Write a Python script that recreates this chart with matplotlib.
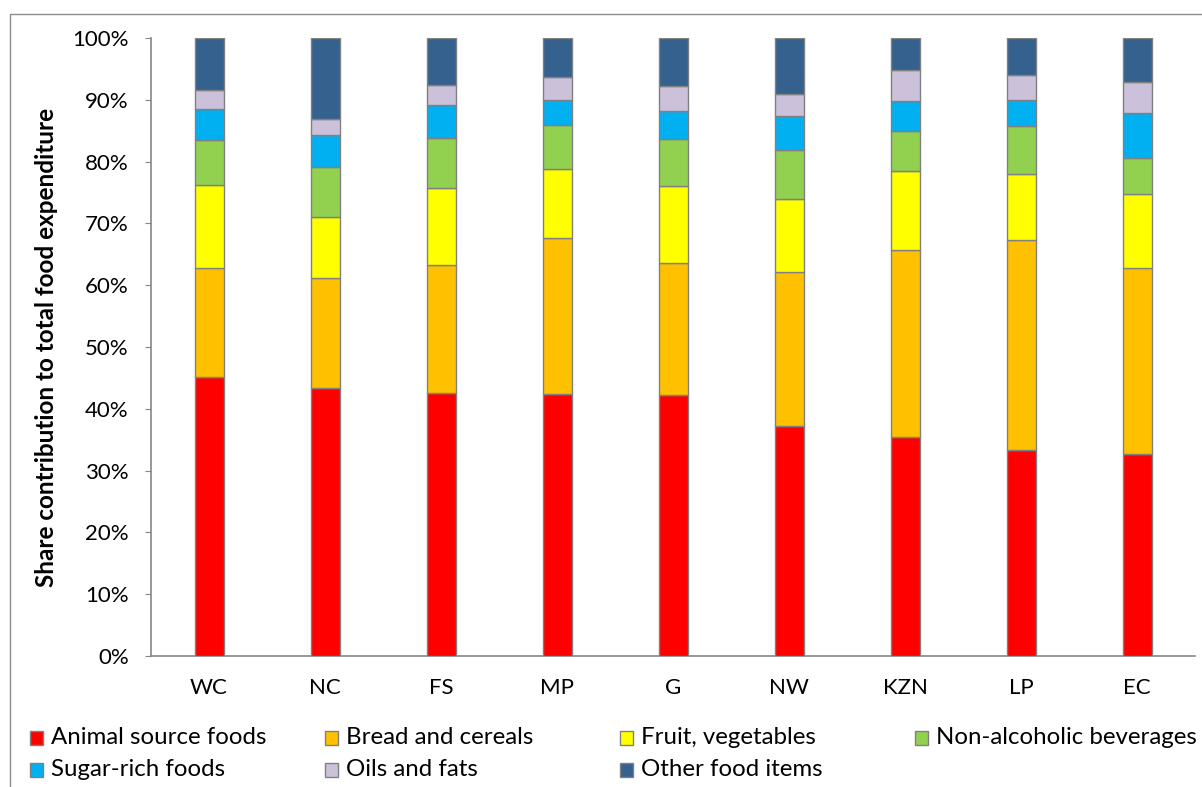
import matplotlib
matplotlib.use("Agg")
import matplotlib.pyplot as plt
import matplotlib.patches as patches
import numpy as np

plt.rcParams['font.family'] = ['Lato', 'DejaVu Sans']

# Provincias e participacao (%) de cada grupo de alimentos na despesa alimentar
provincias = ["WC", "NC", "FS", "MP", "G", "NW", "KZN", "LP", "EC"]
animal = [45.2, 43.4, 42.6, 42.4, 42.2, 37.2, 35.5, 33.4, 32.7]
pao_cereais = [17.6, 17.8, 20.6, 25.3, 21.4, 25.0, 30.2, 33.9, 30.1]
frutas_vegetais = [13.4, 9.9, 12.5, 11.1, 12.4, 11.7, 12.8, 10.7, 12.0]
bebidas = [7.3, 8.1, 8.1, 7.1, 7.6, 8.0, 6.4, 7.7, 5.8]
acucar = [5.0, 5.1, 5.3, 4.1, 4.6, 5.4, 4.9, 4.2, 7.2]
oleos = [3.1, 2.6, 3.3, 3.7, 4.1, 3.7, 5.1, 4.1, 5.0]
outros = [8.4, 13.1, 7.6, 6.3, 7.7, 9.0, 5.1, 6.0, 7.2]

nomes = ["Animal source foods", "Bread and cereals", "Fruit, vegetables",
         "Non-alcoholic beverages", "Sugar-rich foods", "Oils and fats",
         "Other food items"]
series = [animal, pao_cereais, frutas_vegetais, bebidas, acucar, oleos, outros]
cores = ["#FF0000", "#FFC000", "#FFFF00", "#92D050", "#00B0F0", "#CCC1DA", "#35618F"]

fig = plt.figure(figsize=(12.02, 7.87), dpi=100)
ax = fig.add_axes([151 / 1202, 131 / 787, 1044 / 1202, 618 / 787])

x = np.arange(len(provincias))
base = np.zeros(len(provincias))
for valores, cor in zip(series, cores):
    valores = np.array(valores)
    ax.bar(x, valores, width=0.25, bottom=base, color=cor,
           edgecolor="#808080", linewidth=1.0, zorder=3)
    base += valores

ax.set_xlim(-0.5, len(provincias) - 0.5)
ax.set_ylim(0, 100)
ax.set_yticks(np.arange(0, 101, 10))
ax.set_yticklabels([f"{v}%" for v in range(0, 101, 10)], fontsize=16)
ax.set_xticks(x)
ax.set_xticklabels(provincias, fontsize=16)
ax.tick_params(axis='y', length=4, color="#868686", pad=12)
ax.tick_params(axis='x', length=0, pad=16)

for lado in ["top", "right"]:
    ax.spines[lado].set_visible(False)
for lado in ["left", "bottom"]:
    ax.spines[lado].set_color("#868686")
    ax.spines[lado].set_linewidth(1.2)

ax.set_ylabel("Share contribution to total food expenditure", fontsize=17.5,
              fontweight="bold", labelpad=10)

# Legenda manual em duas linhas
col_x = [30, 325, 620, 915]
lin_y = [738, 770]
for i, (nome, cor) in enumerate(zip(nomes, cores)):
    lin, col = divmod(i, 4)
    px, py = col_x[col], lin_y[lin]
    fig.patches.append(patches.Rectangle(
        (px / 1202, (787 - py - 7) / 787), 13 / 1202, 14 / 787,
        facecolor=cor, edgecolor="#808080", linewidth=1.0,
        transform=fig.transFigure, figure=fig))
    fig.text((px + 21) / 1202, (787 - py) / 787, nome, fontsize=17.3,
             va="center", ha="left")

# Moldura da area do grafico
fig.patches.append(patches.Rectangle(
    (10 / 1202, -0.05), 1.2, (787 - 14) / 787 + 0.05, fill=False,
    edgecolor="#8C8C8C", linewidth=1.0, transform=fig.transFigure, figure=fig))

fig.savefig("out.png", dpi=100, facecolor="white")
